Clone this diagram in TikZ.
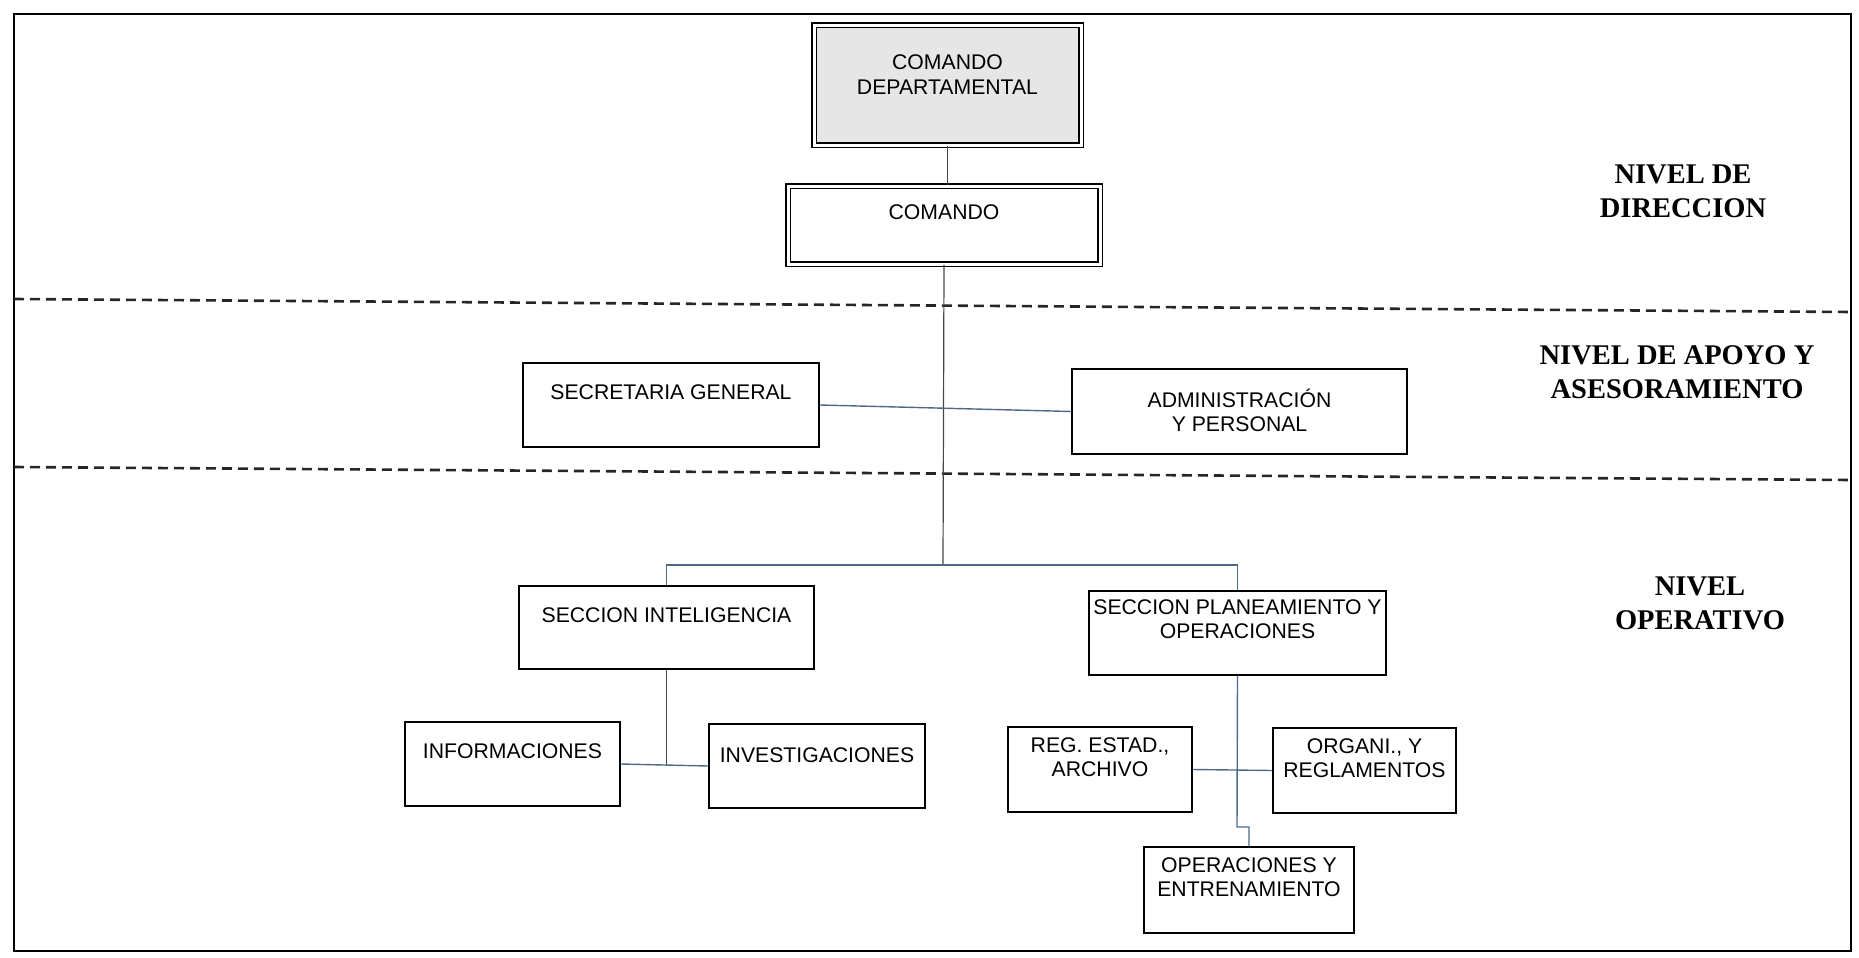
\documentclass[tikz,border=0pt]{standalone}
\usepackage{fontspec}
\setmainfont{Liberation Sans}
\newfontfamily\levelfont{Liberation Serif}
\usepackage{tikz}
\usetikzlibrary{positioning}
\definecolor{linkblue}{RGB}{78,106,134}
\definecolor{linkgray}{RGB}{70,70,70}
\definecolor{headgray}{RGB}{230,230,230}

\begin{document}
\begin{tikzpicture}[x=0.5pt, y=-0.5pt,
  unit/.style={rectangle, draw=black, line width=0.9pt, fill=white, minimum height=42pt, inner sep=0pt, text height=7.6pt, text depth=13pt, align=center, font=\fontsize{10.6}{12}\selectfont},
  twoline/.style={text height=19.6pt},
  head/.style={unit, double, double distance=1.5pt, line width=0.8pt},
  level/.style={font=\levelfont\bfseries\fontsize{14.25}{17}\selectfont, align=center},
  sep/.style={line width=1.3pt, black!85, dash pattern=on 5pt off 3pt},
  link/.style={line width=0.6pt, linkgray},
  hlink/.style={line width=0.7pt, linkblue}
]
  \useasboundingbox (0,0) rectangle (1859,958);
  \draw[line width=1pt] (14,14) rectangle (1851,951);
  \draw[sep] (14,299) -- (1851,312);
  \draw[sep] (14,467) -- (1851,480);

  % nivel de direccion
  \node[head, twoline, fill=headgray, minimum width=133.5pt, minimum height=60pt, text depth=10.5pt,
        font=\fontsize{10.6}{12.5}\selectfont] (cdep) at (947.5,85) {COMANDO\\DEPARTAMENTAL};
  \node[head, minimum width=156pt, minimum height=39pt] (cmd) at (944,225) {COMANDO};

  % nivel de apoyo
  \node[unit, minimum width=148pt] (secg) at (671,405) {SECRETARIA GENERAL};
  \node[unit, twoline, minimum width=167.5pt, minimum height=42.5pt, text depth=0pt] (admp) at (1239.5,411.5) {ADMINISTRACIÓN\\Y PERSONAL};

  % nivel operativo
  \node[unit, minimum width=147.5pt, minimum height=41.5pt] (secint) at (666.5,627.5) {SECCION INTELIGENCIA};
  \node[unit, twoline, minimum width=148.5pt, text depth=14.5pt] (secplan) at (1237.5,633) {SECCION PLANEAMIENTO Y\\OPERACIONES};
  \node[unit, minimum width=107.5pt] (info) at (512.5,764) {INFORMACIONES};
  \node[unit, minimum width=108pt, text depth=11pt] (inv) at (817,766) {INVESTIGACIONES};
  \node[unit, twoline, minimum width=92pt, minimum height=42.5pt] (reg) at (1100,769.5) {REG. ESTAD.,\\ARCHIVO};
  \node[unit, twoline, minimum width=91.5pt, minimum height=42.5pt] (org) at (1364.5,770.5) {ORGANI., Y\\REGLAMENTOS};
  \node[unit, twoline, minimum width=105pt, minimum height=43pt] (opent) at (1249,890) {OPERACIONES Y\\ENTRENAMIENTO};

  \node[level] (lvdir) at (1683,191) {NIVEL DE\\DIRECCION};
  \node[level] (lvapo) at (1677,372) {NIVEL DE APOYO Y\\ASESORAMIENTO};
  \node[level] (lvope) at (1700,603) {NIVEL\\OPERATIVO};

  \coordinate (split) at (943,565);
  \coordinate (jog) at (1237,827);

  \draw[link] (cdep.south) -- (cdep.south |- cmd.north);
  \draw[link] (cmd.south) -- (split);
  \draw[hlink] (secg.east) -- (admp.west);
  \draw[hlink] (secint.north) |- (split) -| (secplan.north);
  \draw[link] (secint.south) -- (secint.south |- inv.west);
  \draw[hlink] (info.east) -- (inv.west);
  \draw[hlink] (secplan.south) -- (jog) -| (opent.north);
  \draw[hlink] (reg.east) -- (org.west);
\end{tikzpicture}
\end{document}
